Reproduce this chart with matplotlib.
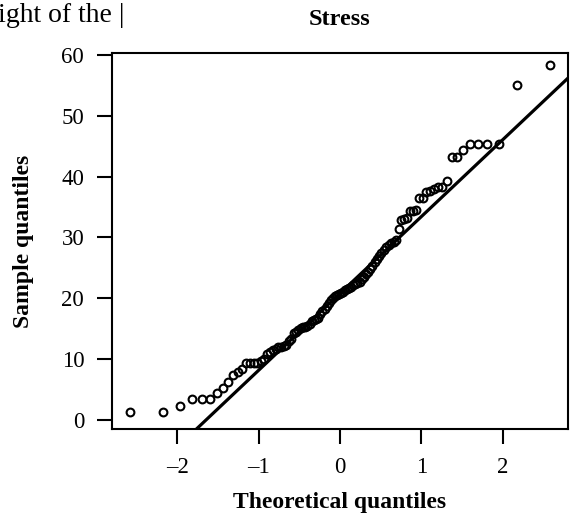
import matplotlib
matplotlib.use("Agg")
import matplotlib.pyplot as plt
import numpy as np
from statistics import NormalDist

# Stress scores, sorted (n = 100)
stress = [
    1.3, 1.3, 2.2, 3.4, 3.4, 3.4, 4.4, 5.3, 6.3, 7.3,
    7.9, 8.4, 9.3, 9.3, 9.4, 9.4, 9.6, 10.0, 10.8, 11.1,
    11.5, 11.7, 11.9, 12.0, 12.1, 12.3, 13.0, 13.3, 14.2, 14.5,
    14.8, 15.1, 15.2, 15.3, 15.5, 15.8, 16.2, 16.4, 16.5, 16.8,
    17.4, 17.9, 18.3, 18.7, 19.2, 19.7, 20.1, 20.3, 20.5, 20.7,
    20.9, 21.1, 21.3, 21.5, 21.7, 21.9, 22.1, 22.3, 22.5, 22.7,
    23.1, 23.5, 23.9, 24.3, 24.8, 25.3, 25.9, 26.5, 27.0, 27.5,
    28.0, 28.4, 28.7, 29.0, 29.2, 29.6, 31.4, 32.9, 33.1, 33.2,
    34.3, 34.4, 34.5, 36.4, 36.5, 37.4, 37.6, 37.9, 38.2, 38.3,
    39.2, 43.2, 43.2, 44.3, 45.3, 45.3, 45.3, 45.3, 55.1, 58.3,
]
x_ticks = [-2, -1, 0, 1, 2]
y_ticks = [0, 10, 20, 30, 40, 50, 60]

plt.rcParams['font.family'] = ['Liberation Serif', 'DejaVu Serif']

n = len(stress)
sample = np.sort(np.array(stress))
# plotting positions as in R's ppoints()
probs = (np.arange(1, n + 1) - 0.5) / n
theo = np.array([NormalDist().inv_cdf(p) for p in probs])

# reference line through the first and third quartiles
q1, q3 = np.quantile(sample, [0.25, 0.75])
z1, z3 = NormalDist().inv_cdf(0.25), NormalDist().inv_cdf(0.75)
slope = (q3 - q1) / (z3 - z1)
intercept = q1 - slope * z1

fig = plt.figure(figsize=(5.72, 5.15), dpi=100)
ax = fig.add_axes([0.1958, 0.167, 0.797, 0.730])

ax.plot(theo, sample, 'o', ms=5.6, mfc='none', mec='black', mew=1.5)
xl = np.array([-3, 3])
ax.plot(xl, intercept + slope * xl, color='black', lw=2.3)

ax.set_xlim(-2.8, 2.8)
ax.set_ylim(-1.5, 60.3)
ax.set_xticks(x_ticks)
ax.set_xticklabels(['\u2013' + str(-t) if t < 0 else str(t) for t in x_ticks])
ax.set_yticks(y_ticks)

for s in ax.spines.values():
    s.set_linewidth(1.5)
ax.tick_params(direction='out', length=11, width=1.5, labelsize=16.5)
ax.tick_params(axis='y', pad=9)
ax.tick_params(axis='x', pad=9)

ax.set_xlabel('Theoretical quantiles', fontsize=17, fontweight='bold', labelpad=10)
ax.set_ylabel('Sample quantiles', fontsize=17, fontweight='bold', labelpad=20)
ax.set_title('Stress', fontsize=17.5, fontweight='bold', pad=20)

fig.text(-0.004, 0.957, 'ight of the |', fontsize=20, ha='left', va='baseline')

fig.savefig('out.png', dpi=100)
